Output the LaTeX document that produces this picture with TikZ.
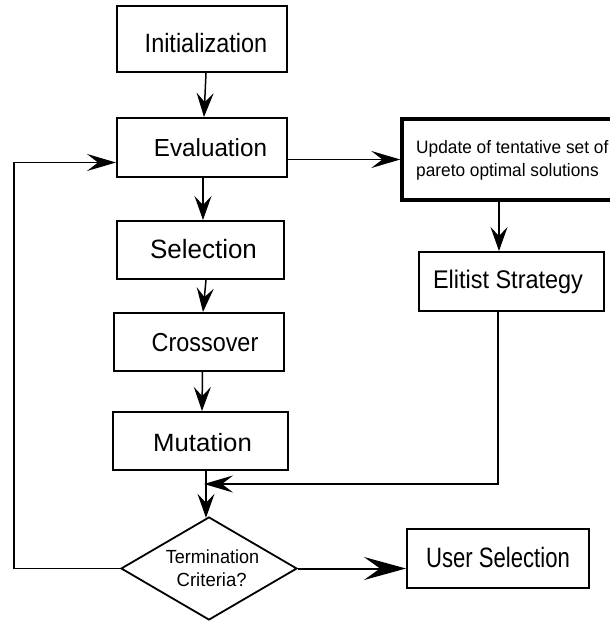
\documentclass[tikz,border=0pt]{standalone}
\usepackage{fontspec}
\setmainfont{Liberation Sans}
\usepackage{graphicx}
\usetikzlibrary{arrows.meta,shapes.geometric}
% size in pt, horizontal squeeze, text
\newcommand\sizedtext[3]{\scalebox{#2}[1]{\fontsize{#1pt}{#1pt}\selectfont #3}}

\begin{document}
\begin{tikzpicture}[x=1pt,y=-1pt,
  box/.style={draw, rectangle, line width=2pt, inner sep=0pt},
  txt/.style={inner sep=0pt, anchor=base},
  link/.style={line width=1.5pt, -{Stealth[length=24pt,width=17pt,inset=9pt]}},
  longlink/.style={line width=1.6pt, -{Stealth[length=29pt,width=17pt,inset=11pt]}},
  biglink/.style={line width=2pt, -{Stealth[length=42pt,width=23pt,inset=16pt]}},
]
\useasboundingbox (0,0) rectangle (610,624);

% main column
\node[box, minimum width=170pt, minimum height=66pt] (init) at (202,39) {};
\node[txt] (initT) at ([xshift=4pt,yshift=-13.3pt]init.center) {\sizedtext{26.5}{0.885}{Initialization}};

\node[box, minimum width=170pt, minimum height=59pt] (eval) at (202,147.5) {};
\node[txt] (evalT) at ([xshift=8.5pt,yshift=-8.5pt]eval.center) {\sizedtext{24.7}{0.98}{Evaluation}};

\node[box, minimum width=167pt, minimum height=58pt] (sel) at (200.5,250) {};
\node[txt] (selT) at ([xshift=3pt,yshift=-8.5pt]sel.center) {\sizedtext{26.5}{0.98}{Selection}};

\node[box, minimum width=170pt, minimum height=58pt] (cross) at (199,342) {};
\node[txt] (crossT) at ([xshift=6pt,yshift=-9.7pt]cross.center) {\sizedtext{26}{0.9}{Crossover}};

\node[box, minimum width=175pt, minimum height=58pt] (mut) at (200.5,441) {};
\node[txt] (mutT) at ([xshift=2pt,yshift=-10pt]mut.center) {\sizedtext{25}{1.03}{Mutation}};

\node[draw, diamond, line width=1.8pt, inner sep=0pt,
      minimum width=176pt, minimum height=103pt] (dia) at (209,568.5) {};
\node[txt] (diaT1) at ([xshift=3.5pt,yshift=5.2pt]dia.center) {\sizedtext{19}{0.95}{Termination}};
\node[txt] (diaT2) at ([xshift=2.7pt,yshift=-18.2pt]dia.center) {\sizedtext{19}{0.975}{Criteria?}};

% right column
\node[box, line width=3.3pt, minimum width=212pt, minimum height=81pt] (update) at (508,159.5) {};
\node[txt, anchor=base west] (updT1) at ([xshift=-92pt,yshift=6.2pt]update.center) {\sizedtext{18}{0.96}{Update of tentative set of}};
\node[txt, anchor=base west] (updT2) at ([xshift=-92pt,yshift=-17.2pt]update.center) {\sizedtext{18}{0.96}{pareto optimal solutions}};

\node[box, minimum width=185pt, minimum height=59pt] (elitist) at (511.5,281.5) {};
\node[txt] (elitT) at ([xshift=-3.5pt,yshift=-6.8pt]elitist.center) {\sizedtext{25.5}{0.92}{Elitist Strategy}};

\node[box, minimum width=182pt, minimum height=59pt] (user) at (498,558.5) {};
\node[txt] (userT) at ([xshift=0pt,yshift=-8.5pt]user.center) {\sizedtext{28}{0.79}{User Selection}};

% helper points
\coordinate (join) at (204,484);
\coordinate (loopx) at (14,0);

% connectors
\draw[link] ([xshift=4pt]init.south) -- ([xshift=2pt]eval.north);
\draw[link] ([xshift=1pt]eval.south) -- ([xshift=2.5pt]sel.north);
\draw[link] ([xshift=5.5pt]sel.south) -- ([xshift=4pt]cross.north);
\draw[link] ([xshift=3.5pt]cross.south) -- ([xshift=1.5pt]mut.north);
\draw[link] ([xshift=5.5pt]mut.south) -- ([xshift=-3pt,yshift=-1.7pt]dia.north);

\draw[longlink] (eval.east |- update.west) -- (update.west);
\draw[link] ([xshift=-9pt]update.south) -- ([xshift=-12.5pt]elitist.north);
\draw[longlink] ([xshift=-13.5pt]elitist.south) |- (join);

\draw[biglink] (dia.east) -- (dia.east -| user.west);
\draw[longlink] (dia.west) -- (dia.west -| loopx) |- ([yshift=-15pt]eval.west);
\end{tikzpicture}
\end{document}
